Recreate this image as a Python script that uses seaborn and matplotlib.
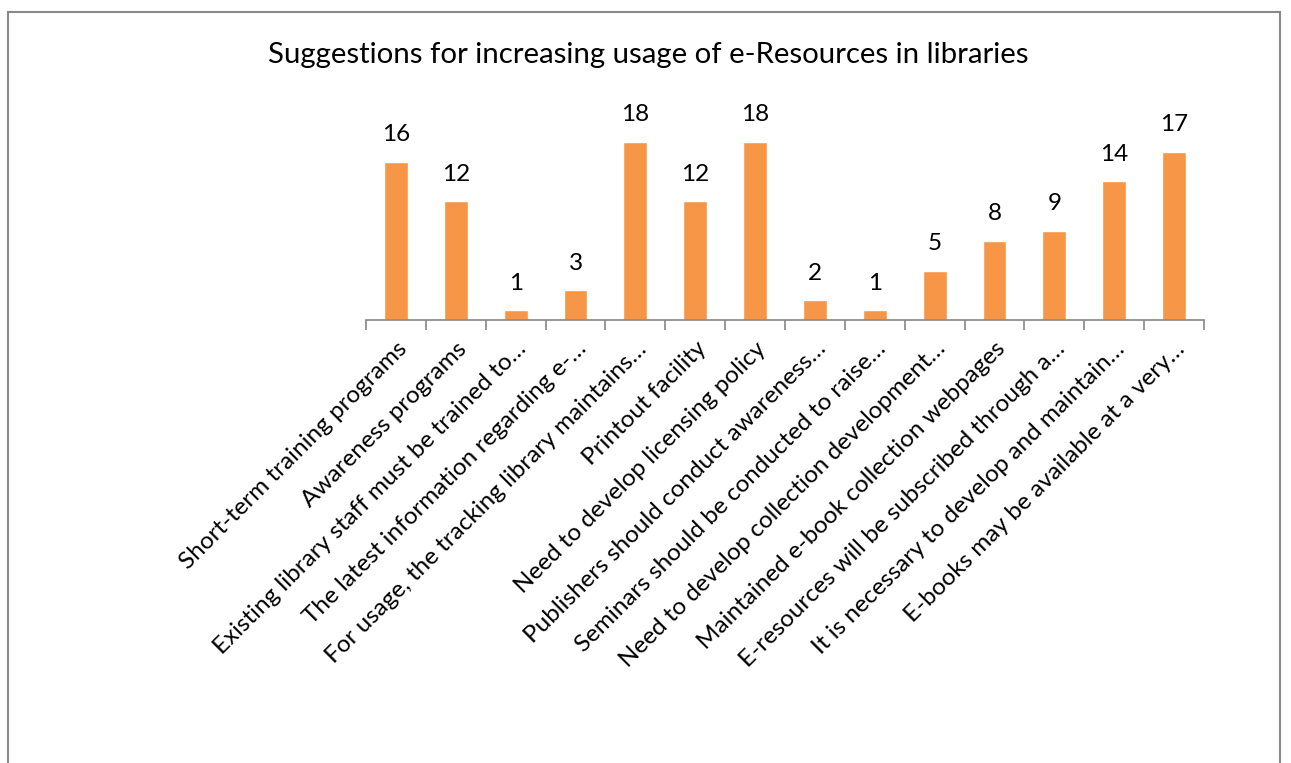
import matplotlib
matplotlib.use("Agg")
import matplotlib.pyplot as plt
import seaborn as sns
import pandas as pd
from matplotlib.patches import Rectangle

categories = [
    "Short-term training programs",
    "Awareness programs",
    "Existing library staff must be trained to…",
    "The latest information regarding e-…",
    "For usage, the tracking library maintains…",
    "Printout facility",
    "Need to develop licensing policy",
    "Publishers should conduct awareness…",
    "Seminars should be conducted to raise…",
    "Need to develop collection development…",
    "Maintained e-book collection webpages",
    "E-resources will be subscribed through a…",
    "It is necessary to develop and maintain…",
    "E-books may be available at a very…",
]
values = [16, 12, 1, 3, 18, 12, 18, 2, 1, 5, 8, 9, 14, 17]
title = "Suggestions for increasing usage of e-Resources in libraries"

sns.set_theme(style="white")
plt.rcParams["font.family"] = ["Lato", "DejaVu Sans"]

W, H = 1291, 763
fig = plt.figure(figsize=(W / 100, H / 100), dpi=100)
fig.patch.set_facecolor("white")

# plot area in pixel terms
left, right, top, bottom = 366, 1204, 122, 320
ax = fig.add_axes([left / W, 1 - bottom / H, (right - left) / W, (bottom - top) / H])

df = pd.DataFrame({"category": categories, "value": values})
sns.barplot(data=df, x="category", y="value", order=categories,
            color="#F79646", saturation=1, width=0.4, ax=ax)

ax.set_ylim(0, 20)
ax.set_xlim(-0.5, len(categories) - 0.5)
ax.set_xlabel("")
ax.set_ylabel("")
ax.set_yticks([])
for s in ["top", "right", "left"]:
    ax.spines[s].set_visible(False)
ax.spines["bottom"].set_color("#868686")
ax.spines["bottom"].set_linewidth(1.2)

# tick marks between categories, labels at category centres
ax.set_xticks([i - 0.5 for i in range(len(categories) + 1)], minor=True)
ax.tick_params(axis="x", which="minor", length=7, width=1.2, color="#868686", bottom=True)
ax.tick_params(axis="x", which="major", length=0, pad=13)
ax.set_xticks(range(len(categories)))
ax.set_xticklabels(categories, rotation=45, ha="right", rotation_mode="anchor",
                   fontsize=17.5, color="black")

for i, v in enumerate(values):
    ax.annotate(str(v), (i, v), xytext=(0, 19.5), textcoords="offset points",
                ha="center", va="center", fontsize=17.5, color="black")

fig.text(648 / W, 1 - 55 / H, title, ha="center", va="center", fontsize=21.2, color="black")

# outer chart border (open at the bottom edge of the image)
fig.add_artist(Rectangle((8 / W, -0.05), (1280 - 8) / W, 1 - 12 / H + 0.05,
                         transform=fig.transFigure, fill=False,
                         edgecolor="#898989", linewidth=1.5))

fig.savefig("out.png", dpi=100, facecolor="white")
